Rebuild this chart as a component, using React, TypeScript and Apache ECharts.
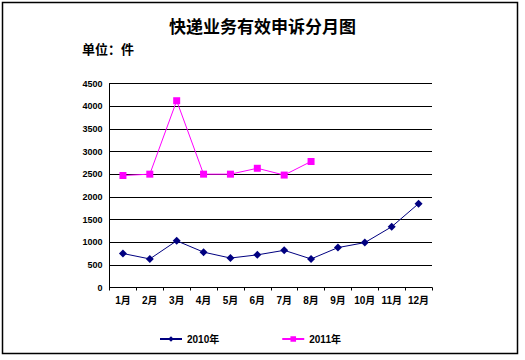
import React, { useEffect, useRef } from "react";
import * as echarts from "echarts";

const months = ["1月", "2月", "3月", "4月", "5月", "6月", "7月", "8月", "9月", "10月", "11月", "12月"];
const series2010 = [750, 630, 1030, 780, 650, 720, 820, 630, 880, 990, 1340, 1850];
const series2011 = [2470, 2500, 4120, 2500, 2500, 2630, 2480, 2780];
const titleText = "快递业务有效申诉分月图";
const unitText = "单位：件";
const FONT = "'Liberation Sans', 'Noto Sans CJK SC', sans-serif";

export default function App() {
  const ref = useRef<HTMLDivElement>(null);
  useEffect(() => {
    if (!ref.current) return;
    const chart = echarts.init(ref.current, undefined, { renderer: "svg" });
    chart.setOption({
      animation: false,
      backgroundColor: "#ffffff",
      title: {
        text: titleText,
        left: "center",
        top: 14,
        textStyle: { fontSize: 17, fontWeight: "bold", color: "#000", fontFamily: FONT },
      },
      graphic: [
        {
          type: "rect",
          shape: { x: 2.5, y: 2.5, width: 515, height: 351 },
          style: { fill: "none", stroke: "#000", lineWidth: 1.5 },
          silent: true,
        },
        {
          type: "text",
          x: 82,
          y: 43,
          style: { text: unitText, font: `bold 13px ${FONT}`, fill: "#000" },
        },
      ],
      legend: {
        left: 154,
        top: 329,
        itemWidth: 22,
        itemHeight: 7,
        itemGap: 62,
        textStyle: { fontSize: 10, fontWeight: "bold", color: "#000", fontFamily: FONT },
        data: ["2010年", "2011年"],
      },
      grid: { left: 109.5, right: 93, top: 83.5, bottom: 72.5 },
      xAxis: {
        type: "category",
        data: months,
        boundaryGap: true,
        axisLine: { lineStyle: { color: "#000", width: 1 } },
        axisTick: { show: true, length: 3, lineStyle: { color: "#000" } },
        axisLabel: { interval: 0, fontSize: 10, fontWeight: "bold", color: "#000", margin: 8, fontFamily: FONT },
      },
      yAxis: {
        type: "value",
        min: 0,
        max: 4500,
        interval: 500,
        axisLine: { show: true, lineStyle: { color: "#000", width: 1 } },
        axisTick: { show: false },
        axisLabel: {
          fontSize: 9,
          fontWeight: "bold",
          color: "#000",
          margin: 7,
          fontFamily: FONT,
          formatter: (v: number) => String(v),
        },
        splitLine: { show: true, lineStyle: { color: "#000", width: 1 } },
      },
      series: [
        {
          name: "2010年",
          type: "line",
          data: series2010,
          symbol: "diamond",
          symbolSize: 8,
          lineStyle: { color: "#000080", width: 1 },
          itemStyle: { color: "#000080" },
        },
        {
          name: "2011年",
          type: "line",
          data: series2011,
          symbol: "rect",
          symbolSize: 7,
          lineStyle: { color: "#ff00ff", width: 1 },
          itemStyle: { color: "#ff00ff" },
        },
      ],
    });
    return () => chart.dispose();
  }, []);
  return (
    <div
      ref={ref}
      style={{ position: "fixed", left: 0, top: 0, width: 525, height: 360 }}
    />
  );
}
